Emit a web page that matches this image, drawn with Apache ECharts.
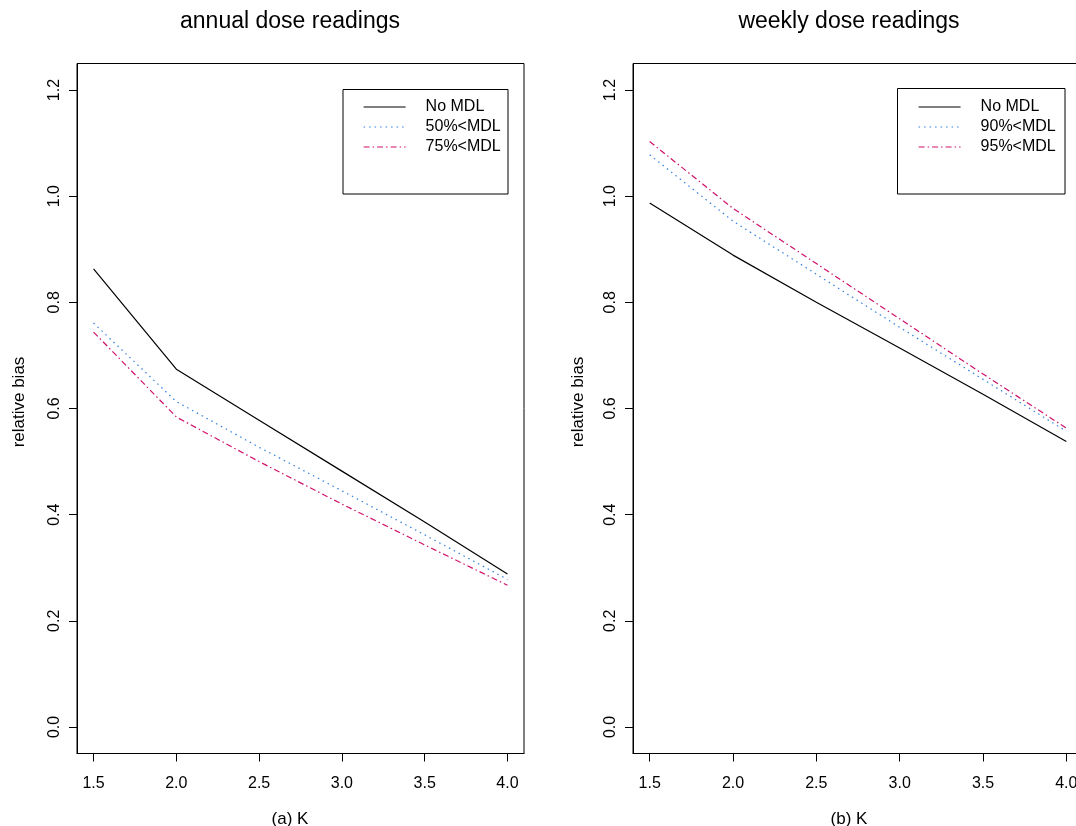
<!DOCTYPE html>
<html>
<head>
<meta charset="utf-8">
<script src="https://cdn.jsdelivr.net/npm/echarts@6/dist/echarts.min.js"></script>
<style>
html,body{margin:0;padding:0;background:#fff;}
#c{width:1076px;height:826px;}
</style>
</head>
<body>
<div id="c"></div>
<script>
// ---- data ----
var kValues = [1.5, 2.0, 2.5, 3.0, 3.5, 4.0];
var xTicks = [1.5, 2.0, 2.5, 3.0, 3.5, 4.0];
var yTicks = [0.0, 0.2, 0.4, 0.6, 0.8, 1.0, 1.2];

var annualNoMDL  = [0.863, 0.674, 0.578, 0.482, 0.386, 0.288];
var annual50MDL  = [0.761, 0.613, 0.527, 0.445, 0.362, 0.278];
var annual75MDL  = [0.744, 0.584, 0.500, 0.420, 0.343, 0.267];

var weeklyNoMDL  = [0.987, 0.889, 0.800, 0.714, 0.627, 0.538];
var weekly90MDL  = [1.078, 0.953, 0.853, 0.753, 0.655, 0.557];
var weekly95MDL  = [1.103, 0.977, 0.873, 0.769, 0.665, 0.563];

var leftNames  = ['No MDL', '50%<MDL', '75%<MDL'];
var rightNames = ['No MDL', '90%<MDL', '95%<MDL'];

var FONT = '"Liberation Sans", Arial, Helvetica, sans-serif';
var BLUE = '#2f7fe0';
var PINK = '#d0116b';

function pairs(ys){ return kValues.map(function(k,i){ return [k, ys[i]]; }); }

function xAxisDef(idx){
  return {
    type:'value', gridIndex: idx, min:1.4, max:4.1, position:'bottom',
    axisLine:{show:true, onZero:false, lineStyle:{color:'#000', width:1}},
    splitLine:{show:false},
    axisTick:{show:true, inside:false, length:8, customValues:xTicks, lineStyle:{color:'#000', width:1}},
    axisLabel:{show:true, customValues:xTicks, margin:22, color:'#000', fontSize:16, fontFamily:FONT,
      hideOverlap:false,
      formatter:function(v){ return v.toFixed(1); }}
  };
}
function yAxisDef(idx){
  return {
    type:'value', gridIndex: idx, min:-0.05, max:1.25, position:'left',
    axisLine:{show:true, onZero:false, lineStyle:{color:'#000', width:1}},
    splitLine:{show:false},
    axisTick:{show:true, inside:false, length:8, customValues:yTicks, lineStyle:{color:'#000', width:1}},
    axisLabel:{show:true, customValues:yTicks, rotate:90, margin:14, color:'#000', fontSize:16, fontFamily:FONT,
      formatter:function(v){ return v.toFixed(1); }}
  };
}
function lineSeries(name, ys, idx, color, type){
  return {
    type:'line', name:name, xAxisIndex:idx, yAxisIndex:idx,
    data: pairs(ys), symbol:'none', showSymbol:false, animation:false,
    lineStyle:{color:color, width:1.2, type:type},
    itemStyle:{color:color}
  };
}
function legendDef(names, left){
  return {
    show:true,
    orient:'vertical', left:left, top:99, padding:0,
    itemWidth:42, itemHeight:14, itemGap:4,
    data:names,
    itemStyle:{color:'rgba(0,0,0,0)', borderColor:'rgba(0,0,0,0)', borderWidth:0, opacity:0},
    lineStyle:{width:1.2},
    textStyle:{color:'#000', fontSize:16, fontFamily:FONT, padding:[0,0,0,15]}
  };
}

var chart = echarts.init(document.getElementById('c'), null, {renderer:'canvas'});
chart.setOption({
  backgroundColor:'#fff',
  animation:false,
  grid:[
    {left:77, top:63.5, width:447, height:690, show:true, borderColor:'#000', borderWidth:1, backgroundColor:'transparent', outerBoundsMode:'none', containLabel:false},
    {left:633, top:63.5, width:450, height:690, show:true, borderColor:'#000', borderWidth:1, backgroundColor:'transparent', outerBoundsMode:'none', containLabel:false}
  ],
  xAxis:[xAxisDef(0), xAxisDef(1)],
  yAxis:[yAxisDef(0), yAxisDef(1)],
  legend:[legendDef(leftNames, 363), legendDef(rightNames, 918)],
  series:[
    lineSeries(leftNames[0], annualNoMDL, 0, '#000', 'solid'),
    lineSeries(leftNames[1], annual50MDL, 0, BLUE, [1.5,4]),
    lineSeries(leftNames[2], annual75MDL, 0, PINK, [6,3,1.5,3]),
    lineSeries(rightNames[0], weeklyNoMDL, 1, '#000', 'solid'),
    lineSeries(rightNames[1], weekly90MDL, 1, BLUE, [1.5,4]),
    lineSeries(rightNames[2], weekly95MDL, 1, PINK, [6,3,1.5,3])
  ],
  graphic:[
    {type:'rect', shape:{x:343, y:89.5, width:165, height:104.5}, style:{fill:'none', stroke:'#000', lineWidth:1}, silent:true, z:0},
    {type:'rect', shape:{x:897.5, y:88.5, width:167.5, height:105.5}, style:{fill:'none', stroke:'#000', lineWidth:1}, silent:true, z:0},
    {type:'text', x:290, y:22, style:{text:'annual dose readings', fontSize:23, fontFamily:FONT, fill:'#000', textAlign:'center', textVerticalAlign:'middle'}},
    {type:'text', x:849, y:22, style:{text:'weekly dose readings', fontSize:23, fontFamily:FONT, fill:'#000', textAlign:'center', textVerticalAlign:'middle'}},
    {type:'text', x:290, y:819, style:{text:'(a) K', fontSize:17, fontFamily:FONT, fill:'#000', textAlign:'center', textVerticalAlign:'middle'}},
    {type:'text', x:849, y:819, style:{text:'(b) K', fontSize:17, fontFamily:FONT, fill:'#000', textAlign:'center', textVerticalAlign:'middle'}},
    {type:'text', x:19, y:402, rotation:Math.PI/2, style:{text:'relative bias', fontSize:17, fontFamily:FONT, fill:'#000', textAlign:'center', textVerticalAlign:'middle'}},
    {type:'text', x:578, y:402, rotation:Math.PI/2, style:{text:'relative bias', fontSize:17, fontFamily:FONT, fill:'#000', textAlign:'center', textVerticalAlign:'middle'}}
  ]
});
</script>
</body>
</html>
